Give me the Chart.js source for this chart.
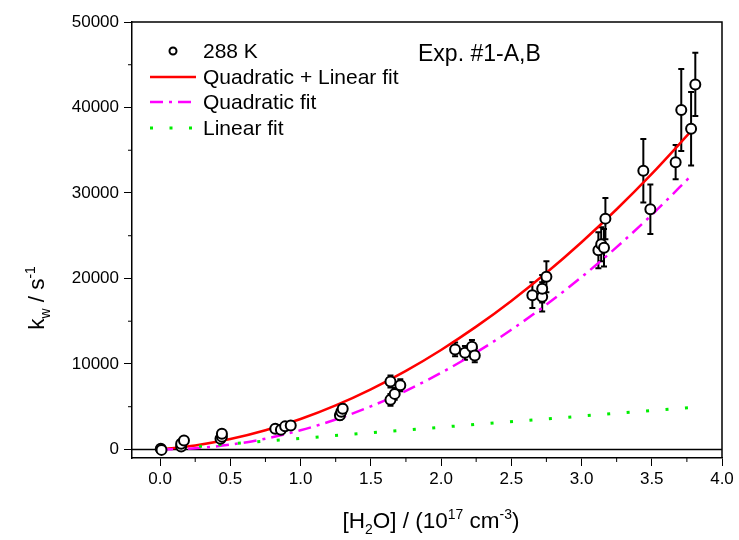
<!DOCTYPE html>
<html><head><meta charset="utf-8">
<script src="https://cdn.jsdelivr.net/npm/chart.js@4.4.0/dist/chart.umd.min.js"></script>
<style>html,body{margin:0;padding:0;background:#fff;}</style>
</head><body>
<canvas id="c" width="739" height="540"></canvas>
<script>
// ---- data ----
const waterConc = [0.005, 0.01, 0.15, 0.15, 0.17, 0.43, 0.44, 0.44, 0.82, 0.86, 0.89, 0.93, 1.28, 1.29, 1.30, 1.64, 1.64, 1.67, 1.71, 2.10, 2.17, 2.22, 2.24, 2.65, 2.72, 2.72, 2.75, 3.12, 3.14, 3.16, 3.17, 3.44, 3.49, 3.67, 3.71, 3.78, 3.81];
const kw = [80, -50, 350, 670, 1050, 1250, 1500, 1840, 2430, 2300, 2700, 2800, 3990, 4400, 4770, 5800, 7950, 6500, 7500, 11700, 11300, 12000, 11000, 18050, 17850, 18800, 20200, 23300, 24000, 23600, 27000, 32600, 28100, 33600, 39700, 37500, 42700];
const kwErr = [100, 100, 150, 150, 200, 250, 250, 300, 350, 350, 400, 400, 500, 500, 500, 700, 700, 700, 700, 800, 800, 800, 800, 1500, 1700, 1600, 1800, 2100, 2000, 2200, 2400, 3700, 2900, 2000, 4800, 4300, 3700];
const fitX = [0, 0.25, 0.5, 0.75, 1.0, 1.25, 1.5, 1.75, 2.0, 2.25, 2.5, 2.75, 3.0, 3.25, 3.5, 3.79];
const quadLinFit = [0, 466, 1215, 2247, 3560, 5157, 7035, 9196, 11640, 14366, 17375, 20666, 24240, 28096, 32235, 37400];
const quadFit = [0, 140, 560, 1260, 2240, 3500, 5040, 6860, 8960, 11340, 14000, 16940, 20160, 23660, 27440, 32180];
const linX = [0, 3.79];
const linFit = [0, 4930];
const xTickValues = [0, 0.5, 1.0, 1.5, 2.0, 2.5, 3.0, 3.5, 4.0];
const yTickValues = [0, 10000, 20000, 30000, 40000, 50000];
const seriesLabels = ['288 K', 'Quadratic + Linear fit', 'Quadratic fit', 'Linear fit'];
const expLabel = 'Exp. #1-A,B';

const FONT = '"Liberation Sans", Arial, sans-serif';

const pts = waterConc.map((x, i) => ({x: x, y: kw[i], e: kwErr[i]}));
const zip = (xs, ys) => xs.map((x, i) => ({x: x, y: ys[i]}));

function richText(ctx, x, y, parts, size) {
  let cx = x;
  parts.forEach(([t, m]) => {
    const s = m === 'n' ? size : size * 0.62;
    const dy = m === 'sub' ? size * 0.25 : (m === 'sup' ? -size * 0.42 : 0);
    ctx.font = s + 'px ' + FONT;
    ctx.fillText(t, cx, y + dy);
    cx += ctx.measureText(t).width;
  });
  return cx - x;
}
function richWidth(ctx, parts, size) {
  let w = 0;
  parts.forEach(([t, m]) => {
    const s = m === 'n' ? size : size * 0.62;
    ctx.font = s + 'px ' + FONT;
    w += ctx.measureText(t).width;
  });
  return w;
}

const decor = {
  id: 'decor',
  beforeDatasetsDraw(chart) {
    const {ctx, chartArea: a, scales: {x, y}} = chart;
    ctx.save();
    ctx.strokeStyle = '#000'; ctx.lineWidth = 1.5;
    const y0 = y.getPixelForValue(0);
    ctx.beginPath(); ctx.moveTo(a.left, y0); ctx.lineTo(a.right, y0); ctx.stroke();
    ctx.lineWidth = 2;
    pts.forEach(p => {
      const px = x.getPixelForValue(p.x);
      const pt = y.getPixelForValue(p.y + p.e);
      const pb = y.getPixelForValue(p.y - p.e);
      ctx.beginPath();
      ctx.moveTo(px, pt); ctx.lineTo(px, pb);
      ctx.moveTo(px - 3, pt); ctx.lineTo(px + 3, pt);
      ctx.moveTo(px - 3, pb); ctx.lineTo(px + 3, pb);
      ctx.stroke();
    });
    ctx.restore();
  },
  afterDraw(chart) {
    const {ctx, chartArea: a, scales: {x, y}} = chart;
    ctx.save();
    ctx.strokeStyle = '#000'; ctx.lineWidth = 1.5;
    ctx.beginPath();
    ctx.moveTo(a.left, a.top); ctx.lineTo(a.right, a.top); ctx.lineTo(a.right, a.bottom);
    ctx.stroke();
    ctx.lineWidth = 1;
    for (let v = 0.25; v < 4; v += 0.5) {
      const px = x.getPixelForValue(v);
      ctx.beginPath(); ctx.moveTo(px, a.bottom); ctx.lineTo(px, a.bottom + 4); ctx.stroke();
    }
    for (let v = 5000; v < 50000; v += 10000) {
      const py = y.getPixelForValue(v);
      ctx.beginPath(); ctx.moveTo(a.left, py); ctx.lineTo(a.left - 4, py); ctx.stroke();
    }
    ctx.fillStyle = '#000';
    ctx.textBaseline = 'alphabetic';
    const xt = [['[H', 'n'], ['2', 'sub'], ['O] / (10', 'n'], ['17', 'sup'], [' cm', 'n'], ['-3', 'sup'], [')', 'n']];
    const xw = richWidth(ctx, xt, 22.5);
    richText(ctx, 431 - xw / 2, 528, xt, 22.5);
    const yt = [['k', 'n'], ['w', 'sub'], [' / s', 'n'], ['-1', 'sup']];
    const yw = richWidth(ctx, yt, 22.5);
    ctx.save();
    ctx.translate(44, 298);
    ctx.rotate(-Math.PI / 2);
    richText(ctx, -yw / 2, 0, yt, 22.5);
    ctx.restore();
    const lx1 = 150, lx2 = 196, tx = 203;
    const rows = [51, 77, 102, 128];
    ctx.font = '21px ' + FONT;
    ctx.textBaseline = 'middle';
    ctx.textAlign = 'left';
    seriesLabels.forEach((lab, i) => ctx.fillText(lab, tx, rows[i] + 1));
    ctx.beginPath(); ctx.arc(173, rows[0], 3.5, 0, Math.PI * 2);
    ctx.fillStyle = '#fff'; ctx.fill(); ctx.lineWidth = 2; ctx.strokeStyle = '#000'; ctx.stroke();
    const ds = chart.data.datasets;
    [1, 2, 3].forEach(i => {
      ctx.strokeStyle = ds[i].borderColor; ctx.lineWidth = ds[i].borderWidth;
      ctx.setLineDash(ds[i].borderDash || []);
      ctx.beginPath(); ctx.moveTo(lx1, rows[i]); ctx.lineTo(lx2, rows[i]); ctx.stroke();
    });
    ctx.setLineDash([]);
    ctx.fillStyle = '#000';
    ctx.font = '23px ' + FONT;
    ctx.fillText(expLabel, 418, 55);
    ctx.restore();
  }
};

new Chart(document.getElementById('c'), {
  type: 'scatter',
  data: {
    datasets: [
      {label: seriesLabels[0], data: pts, showLine: false, pointRadius: 5, pointBorderWidth: 2,
       borderColor: '#000', backgroundColor: '#fff', pointHoverRadius: 5, order: 0},
      {label: seriesLabels[1], data: zip(fitX, quadLinFit), showLine: true, pointRadius: 0, borderColor: '#ff0000',
       borderWidth: 2.5, cubicInterpolationMode: 'monotone', order: 3},
      {label: seriesLabels[2], data: zip(fitX, quadFit), showLine: true, pointRadius: 0, borderColor: '#ff00ff',
       borderWidth: 2.5, borderDash: [13, 6, 3, 6], cubicInterpolationMode: 'monotone', order: 2},
      {label: seriesLabels[3], data: zip(linX, linFit), showLine: true, pointRadius: 0, borderColor: '#00ee00',
       borderWidth: 3, borderDash: [3, 16.5], order: 1}
    ]
  },
  options: {
    responsive: false,
    animation: false,
    layout: {padding: {left: 0, top: 22, right: 17, bottom: 0}},
    plugins: {legend: {display: false}, tooltip: {enabled: false}},
    scales: {
      x: {
        type: 'linear', min: -0.2, max: 4.0,
        afterFit(s) { s.height = 82; },
        afterBuildTicks(s) { s.ticks = xTickValues.map(v => ({value: v})); },
        border: {display: true, color: '#000', width: 1.5},
        grid: {display: true, drawOnChartArea: false, drawTicks: true, tickLength: 8, tickColor: '#000', tickWidth: 1},
        ticks: {color: '#000', font: {family: FONT, size: 17}, padding: 3,
          callback: v => v.toFixed(1)}
      },
      y: {
        type: 'linear', min: -1000, max: 50000,
        afterFit(s) { s.width = 132; },
        afterBuildTicks(s) { s.ticks = yTickValues.map(v => ({value: v})); },
        border: {display: true, color: '#000', width: 1.5},
        grid: {display: true, drawOnChartArea: false, drawTicks: true, tickLength: 8, tickColor: '#000', tickWidth: 1},
        ticks: {color: '#000', font: {family: FONT, size: 17}, padding: 5,
          callback: v => String(v)}
      }
    }
  },
  plugins: [decor]
});
</script>
</body></html>
